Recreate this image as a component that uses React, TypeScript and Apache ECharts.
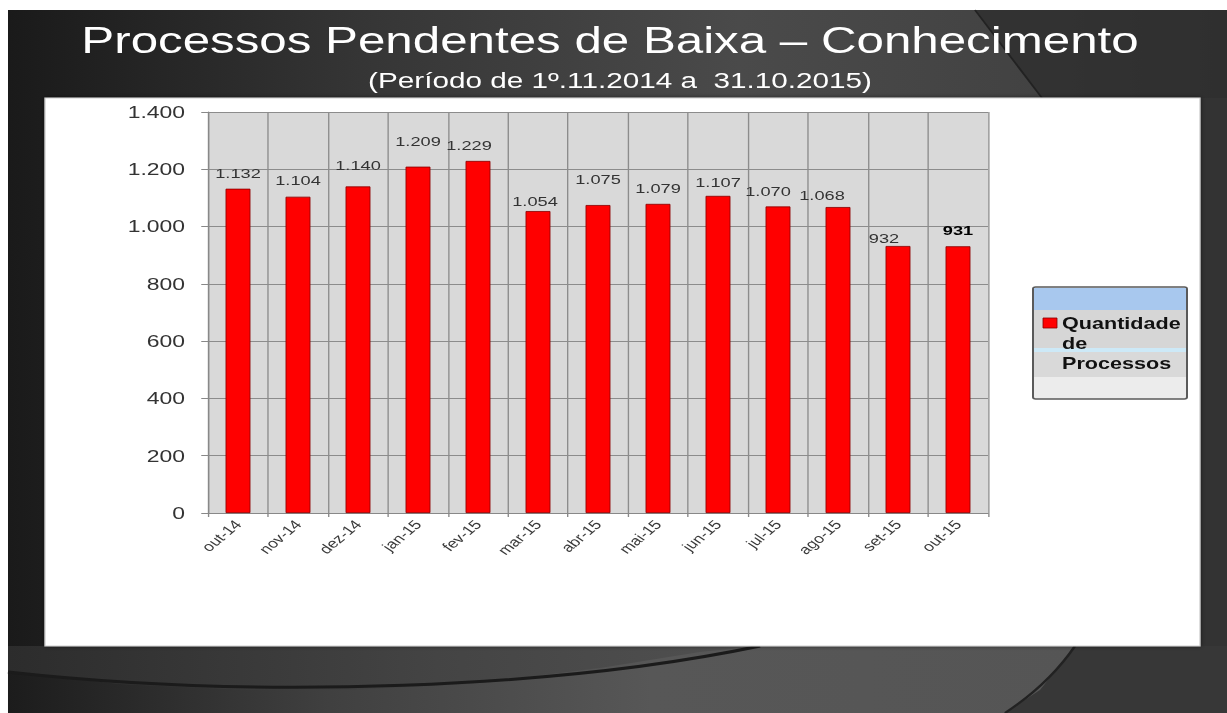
import React, { useEffect, useRef } from "react";
import * as echarts from "echarts";

// ---- data ----
const categories = ["out-14", "nov-14", "dez-14", "jan-15", "fev-15", "mar-15", "abr-15", "mai-15", "jun-15", "jul-15", "ago-15", "set-15", "out-15"];
const quantidade = [1132, 1104, 1140, 1209, 1229, 1054, 1075, 1079, 1107, 1070, 1068, 932, 931];
const yTicks = { min: 0, max: 1400, interval: 200 };
const seriesName = "Quantidade de Processos";
const titleText = "Processos Pendentes de Baixa – Conhecimento";
const subtitleText = "(Período de 1º.11.2014 a  31.10.2015)";

// label nudges (stretched px), as placed in the original
const labelNudgeX = [0, 0, 0, 0, -9, -3, 0, 0, 0, -10, -16, -14, 0];
const labelNudgeY = [0, -1, -6, -10, 0, 6, -10, 0, 2, 0, 4, 8, 0];

// whole picture is horizontally stretched
const S = 1.35;
const X = (v: number) => v / S;
const FONT = "Liberation Sans, Arial, sans-serif";

const fmt = (v: number) => String(v).replace(/\B(?=(\d{3})+(?!\d))/g, ".");

export default function App() {
  const ref = useRef<HTMLDivElement>(null);
  useEffect(() => {
    if (!ref.current) return;
    const chart = echarts.init(ref.current, undefined, { renderer: "svg" });
    const last = quantidade.length - 1;
    const data = quantidade.map((v, i) => ({
      value: v,
      label: {
        offset: [X(labelNudgeX[i]), labelNudgeY[i]],
        ...(i === last ? { fontWeight: "bold", color: "#000" } : {}),
      },
    }));
    const curvePts = [[8, 672], [120, 684], [250, 690], [352, 690], [470, 684], [600, 668], [700, 652], [760, 646]];
    chart.setOption({
      animation: false,
      backgroundColor: "transparent",
      graphic: [
        {
          type: "rect",
          silent: true,
          z: -10,
          shape: { x: X(8), y: 10, width: X(1219), height: 703 },
          style: {
            fill: new echarts.graphic.LinearGradient(0, 0, 1, 0, [
              { offset: 0, color: "#1a1a1a" },
              { offset: 0.3, color: "#363636" },
              { offset: 0.6, color: "#4a4a4a" },
              { offset: 0.85, color: "#424242" },
              { offset: 1, color: "#353535" },
            ]),
          },
        },
        {
          type: "polygon",
          silent: true,
          z: -9,
          shape: { points: [[X(975), 10], [X(1227), 10], [X(1227), 98], [X(1042), 98]] },
          style: { fill: "#2e2e2e", opacity: 0.8 },
        },
        {
          type: "line",
          silent: true,
          z: -9,
          shape: { x1: X(975), y1: 10, x2: X(1042), y2: 98 },
          style: { stroke: "#222", lineWidth: 1.5 },
        },
        {
          type: "rect",
          silent: true,
          z: -9,
          shape: { x: X(1200), y: 98, width: X(27), height: 615 },
          style: { fill: "#333" },
        },
        {
          type: "polygon",
          silent: true,
          z: -9,
          shape: { points: [[X(8), 646], [X(1080), 646], [X(1080), 713], [X(8), 713]] },
          style: {
            fill: new echarts.graphic.LinearGradient(0, 0, 1, 0, [
              { offset: 0, color: "#2c2c2c" },
              { offset: 0.4, color: "#444" },
              { offset: 0.8, color: "#555" },
              { offset: 1, color: "#525252" },
            ]),
          },
        },
        {
          type: "polygon",
          silent: true,
          z: -9,
          shape: { points: [...curvePts.map(([a, b]) => [X(a), b]), [X(1080), 646], [X(1080), 713], [X(8), 713]] },
          style: {
            fill: new echarts.graphic.LinearGradient(0, 0, 1, 0, [
              { offset: 0, color: "#1c1c1c" },
              { offset: 0.3, color: "#404040" },
              { offset: 0.6, color: "#575757" },
              { offset: 1, color: "#555555" },
            ]),
          },
        },
        {
          type: "bezierCurve",
          silent: true,
          z: -8,
          shape: { x1: X(8), y1: 672, cpx1: X(260), cpy1: 700, cpx2: X(560), cpy2: 688, x2: X(760), y2: 646 },
          style: { stroke: "#1b1b1b", lineWidth: 3, fill: "none" },
        },
        {
          type: "polygon",
          silent: true,
          z: -8,
          shape: { points: [[X(1005), 713], [X(1040), 690], [X(1060), 665], [X(1075), 646], [X(1227), 646], [X(1227), 713]] },
          style: { fill: "#373737" },
        },
        {
          type: "bezierCurve",
          silent: true,
          z: -7,
          shape: { x1: X(1005), y1: 713, cpx1: X(1040), cpy1: 690, cpx2: X(1062), cpy2: 665, x2: X(1075), y2: 646 },
          style: { stroke: "#222", lineWidth: 2, fill: "none" },
        },
        {
          type: "rect",
          silent: true,
          z: -5,
          shape: { x: X(45), y: 98, width: X(1155), height: 548 },
          style: { fill: "#ffffff", stroke: "#cfcfcf", lineWidth: 1, shadowBlur: 4, shadowColor: "rgba(0,0,0,0.5)" },
        },
        {
          type: "text",
          x: X(610),
          y: 40.5,
          style: { text: titleText, font: `36.5px ${FONT}`, fill: "#ffffff", align: "center", verticalAlign: "middle" },
        },
        {
          type: "text",
          x: X(620),
          y: 80.5,
          style: { text: subtitleText, font: `22px ${FONT}`, fill: "#ffffff", align: "center", verticalAlign: "middle" },
        },
        // legend box
        {
          type: "group",
          children: [
            { type: "rect", shape: { x: X(1033), y: 287, width: X(154), height: 112, r: 2 }, style: { fill: "#ececec", stroke: "#5a5a5a", lineWidth: 1.5 } },
            { type: "rect", shape: { x: X(1034), y: 288, width: X(152), height: 22 }, style: { fill: "#a8c8ee" } },
            { type: "rect", shape: { x: X(1034), y: 310, width: X(152), height: 38 }, style: { fill: "#d6d6d6" } },
            { type: "rect", shape: { x: X(1034), y: 348, width: X(152), height: 4 }, style: { fill: "#cde9f7" } },
            { type: "rect", shape: { x: X(1034), y: 352, width: X(152), height: 25 }, style: { fill: "#d9d9d9" } },
            { type: "rect", shape: { x: X(1043), y: 318, width: X(14), height: 10 }, style: { fill: "#ff0000", stroke: "#8a0000", lineWidth: 0.7 } },
            { type: "text", x: X(1062), y: 324, style: { text: "Quantidade", font: `bold 16px ${FONT}`, fill: "#111", align: "left", verticalAlign: "middle" } },
            { type: "text", x: X(1062), y: 344, style: { text: "de", font: `bold 16px ${FONT}`, fill: "#111", align: "left", verticalAlign: "middle" } },
            { type: "text", x: X(1062), y: 364, style: { text: "Processos", font: `bold 16px ${FONT}`, fill: "#111", align: "left", verticalAlign: "middle" } },
          ],
        },
      ],
      grid: {
        left: X(208),
        top: 112,
        width: X(780),
        height: 401,
        show: true,
        backgroundColor: "#d9d9d9",
        borderWidth: 0,
      },
      xAxis: {
        type: "category",
        data: categories,
        boundaryGap: true,
        axisLine: { show: true, lineStyle: { color: "#888", width: 1 } },
        axisTick: { show: true, length: 4, interval: 0, lineStyle: { color: "#888" } },
        splitLine: { show: true, interval: 0, lineStyle: { color: "#8c8c8c", width: 1 } },
        axisLabel: { interval: 0, rotate: 48, fontSize: 13, color: "#3a3a3a", margin: 9, fontFamily: FONT },
      },
      yAxis: {
        type: "value",
        min: yTicks.min,
        max: yTicks.max,
        interval: yTicks.interval,
        axisLine: { show: true, lineStyle: { color: "#888", width: 1 } },
        axisTick: { show: true, length: 5, lineStyle: { color: "#888" } },
        splitLine: { show: true, lineStyle: { color: "#8c8c8c", width: 1 } },
        axisLabel: { fontSize: 17, color: "#333", margin: 17, fontFamily: FONT, formatter: (v: number) => fmt(v) },
      },
      series: [
        {
          name: seriesName,
          type: "bar",
          barWidth: X(25),
          data,
          itemStyle: { color: "#ff0000", borderColor: "#8a0000", borderWidth: 0.7 },
          label: {
            show: true,
            position: "top",
            distance: 9,
            fontSize: 13.5,
            color: "#333",
            fontFamily: FONT,
            formatter: (p: any) => fmt(p.value),
          },
        },
      ],
    });
    return () => chart.dispose();
  }, []);
  return (
    <div
      ref={ref}
      style={{
        position: "absolute",
        left: 0,
        top: 0,
        width: 1227 / S,
        height: 713,
        transform: `scaleX(${S})`,
        transformOrigin: "0 0",
      }}
    />
  );
}
